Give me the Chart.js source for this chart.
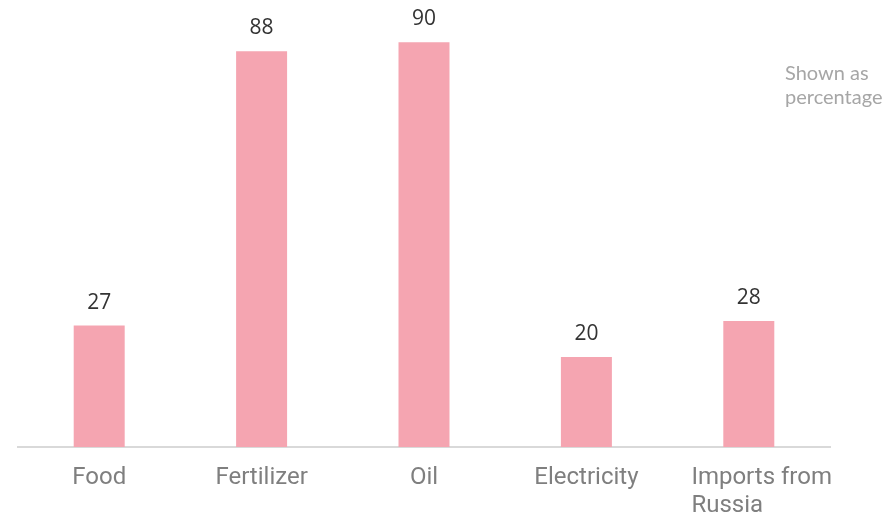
<!DOCTYPE html>
<html>
<head>
<meta charset="utf-8">
<script src="https://cdn.jsdelivr.net/npm/chart.js@4.4.1/dist/chart.umd.min.js"></script>
<style>
  html, body { margin: 0; padding: 0; background: #fff; }
  #wrap { width: 891px; height: 515px; position: relative; }
</style>
</head>
<body>
<div id="wrap"><canvas id="chart"></canvas></div>
<script>
// categories and values (percent)
const categories = ["Food", "Fertilizer", "Oil", "Electricity", ["Imports from", "Russia"]];
const shares = [27, 88, 90, 20, 28];
const noteLines = ["Shown as", "percentage"];

const barColor = "#f5a5b1";

// value above each bar
const valueLabels = {
  id: "valueLabels",
  afterDatasetsDraw(chart) {
    const ctx = chart.ctx;
    const meta = chart.getDatasetMeta(0);
    ctx.save();
    ctx.font = "21px 'Open Sans'";
    ctx.fillStyle = "#333";
    ctx.textAlign = "center";
    ctx.textBaseline = "alphabetic";
    meta.data.forEach((bar, i) => {
      ctx.fillText(String(shares[i]), bar.x, bar.y - 17);
    });
    ctx.restore();
  }
};

// category names under the axis; wrapped names are left aligned as a block
const categoryLabels = {
  id: "categoryLabels",
  afterDraw(chart) {
    const ctx = chart.ctx;
    const xs = chart.scales.x;
    const area = chart.chartArea;
    ctx.save();
    ctx.font = "24px Roboto";
    ctx.fillStyle = "#7f7f7f";
    ctx.textBaseline = "alphabetic";
    categories.forEach((label, i) => {
      const cx = xs.getPixelForValue(i);
      const y = area.bottom + 37;
      if (Array.isArray(label)) {
        const w = Math.max(...label.map((l) => ctx.measureText(l).width));
        const x = Math.max(cx - w / 2, area.right + 2 - w);
        ctx.textAlign = "left";
        label.forEach((l, k) => ctx.fillText(l, x, y + k * 28));
      } else {
        ctx.textAlign = "center";
        ctx.fillText(label, cx, y);
      }
    });
    ctx.restore();
  }
};

// small note at the top right
const cornerNote = {
  id: "cornerNote",
  afterDraw(chart) {
    const ctx = chart.ctx;
    ctx.save();
    ctx.font = "20px Lato";
    ctx.fillStyle = "#a6a6a6";
    ctx.textAlign = "left";
    ctx.textBaseline = "alphabetic";
    const x = chart.chartArea.right - 45;
    noteLines.forEach((line, i) => {
      ctx.fillText(line, x, 80 + i * 24);
    });
    ctx.restore();
  }
};

new Chart(document.getElementById("chart"), {
  type: "bar",
  data: {
    labels: categories,
    datasets: [{
      data: shares,
      backgroundColor: barColor,
      categoryPercentage: 1,
      barPercentage: 0.314,
    }],
  },
  options: {
    responsive: true,
    maintainAspectRatio: false,
    animation: false,
    layout: { padding: { left: 18, right: 61, top: 0, bottom: 60 } },
    plugins: {
      legend: { display: false },
      tooltip: { enabled: false },
    },
    scales: {
      x: {
        grid: { display: false },
        border: { display: true, color: "#d9d9d9", width: 2 },
        ticks: { display: false },
      },
      y: {
        display: false,
        min: 0,
        max: 99.4,
      },
    },
  },
  plugins: [valueLabels, categoryLabels, cornerNote],
});
</script>
</body>
</html>
